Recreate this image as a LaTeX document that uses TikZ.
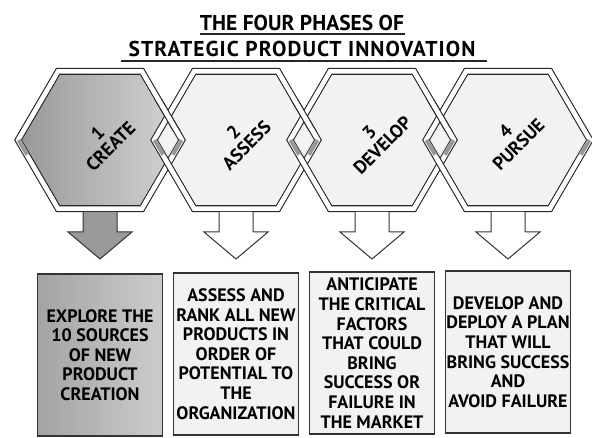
\documentclass[tikz,border=0pt]{standalone}
\usepackage{fontspec}
\setmainfont{PT Sans}
\usetikzlibrary{calc}
\newcommand\hexpathat[2]{({#1-86*#2},140) -- ({#1-44*#2},{140-72*#2}) -- ({#1+44*#2},{140-72*#2}) -- ({#1+86*#2},140) -- ({#1+44*#2},{140+72*#2}) -- ({#1-44*#2},{140+72*#2}) -- cycle}
\begin{document}
\begin{tikzpicture}[x=1pt,y=-1pt,
  band/.style={draw=black!85, line width=1.1pt, double=white, double distance=4.6pt, line join=miter},
  hexlabel/.style={font=\bfseries\fontsize{18.5}{18.5}\selectfont, align=center, rotate=45, inner sep=0pt},
  infobox/.style={draw=black!80, line width=1.2pt, minimum width=125pt, minimum height=162pt, inner sep=0pt, align=center, font=\bfseries\fontsize{18}{19.6}\selectfont},
  titletext/.style={font=\bfseries\fontsize{21.5}{22}\selectfont, inner sep=0pt},
  arrowline/.style={draw=black!80, line width=1pt, line join=miter},
  vshade/.style={line width=4.2pt, draw=black!40}
]
\fill[white] (0,0) rectangle (592,438);
\useasboundingbox (0,0) rectangle (592,438);

% title
\node[titletext] (t1) at (302,23) {THE FOUR PHASES OF};
\node[titletext] (t2) at (302,49) {\addfontfeature{LetterSpace=5}STRATEGIC PRODUCT INNOVATION};
\draw[line width=1.3pt, black!85] (200,34) -- (405,34);
\draw[line width=1.3pt, black!85] (121,61) -- (487,61);

% hex centres
\coordinate (h1) at (100,140);
\coordinate (h2) at (236,140);
\coordinate (h3) at (372,140);
\coordinate (h4) at (508,140);

% interiors
\shade[left color=black!40, right color=black!17] \hexpathat{100}{0.92};
\foreach \c in {236,372,508} \fill[black!5] \hexpathat{\c}{0.92};

% bands
\foreach \c in {100,236,372,508} \draw[band] \hexpathat{\c}{0.953};
% interlock: left hexagon over at the upper crossing
\foreach \c in {100,236,372} {
  \begin{scope}
    \clip ({\c+54},100) rectangle ({\c+82},132);
    \draw[band] \hexpathat{\c}{0.953};
  \end{scope}
}
% grey shading below the side vertices
\foreach \c in {100,236,372,508} {
  \draw[vshade] ({\c-81.3},140) -- ({\c-81.3+8.6},154.7);
  \draw[vshade] ({\c+81.3},140) -- ({\c+81.3-8.6},154.7);
}

% labels
\node[hexlabel] (l1) at (104,140) {1\\CREATE};
\node[hexlabel] (l2) at (240,139) {2\\ASSESS};
\node[hexlabel] (l3) at (376,139) {3\\DEVELOP};
\node[hexlabel] (l4) at (512,138) {4\\PURSUE};

% block arrows
\foreach \c/\col in {100/black!40, 236/white, 372/white, 508/white} {
  \fill[\col] ({\c-17},212) -- ({\c-17},232) -- ({\c-32},232) -- (\c,259) -- ({\c+32},232) -- ({\c+17},232) -- ({\c+17},212) -- cycle;
  \draw[arrowline] ({\c-17},212) -- ({\c-17},232) -- ({\c-32},232) -- (\c,259) -- ({\c+32},232) -- ({\c+17},232) -- ({\c+17},212);
}

% boxes
\node[infobox, left color=black!36, right color=black!20] (b1) at (100,355) {EXPLORE THE\\10 SOURCES\\OF NEW\\PRODUCT\\CREATION};
\node[infobox, fill=black!5] (b2) at (236,354) {ASSESS AND\\RANK ALL NEW\\PRODUCTS IN\\ORDER OF\\POTENTIAL TO\\THE\\ORGANIZATION};
\node[infobox, fill=black!5] (b3) at (372,353) {ANTICIPATE\\THE CRITICAL\\FACTORS\\THAT COULD\\BRING\\SUCCESS OR\\FAILURE IN\\THE MARKET};
\node[infobox, fill=black!5] (b4) at (508,352) {DEVELOP AND\\DEPLOY A PLAN\\THAT WILL\\BRING SUCCESS\\AND\\AVOID FAILURE};
\end{tikzpicture}
\end{document}
